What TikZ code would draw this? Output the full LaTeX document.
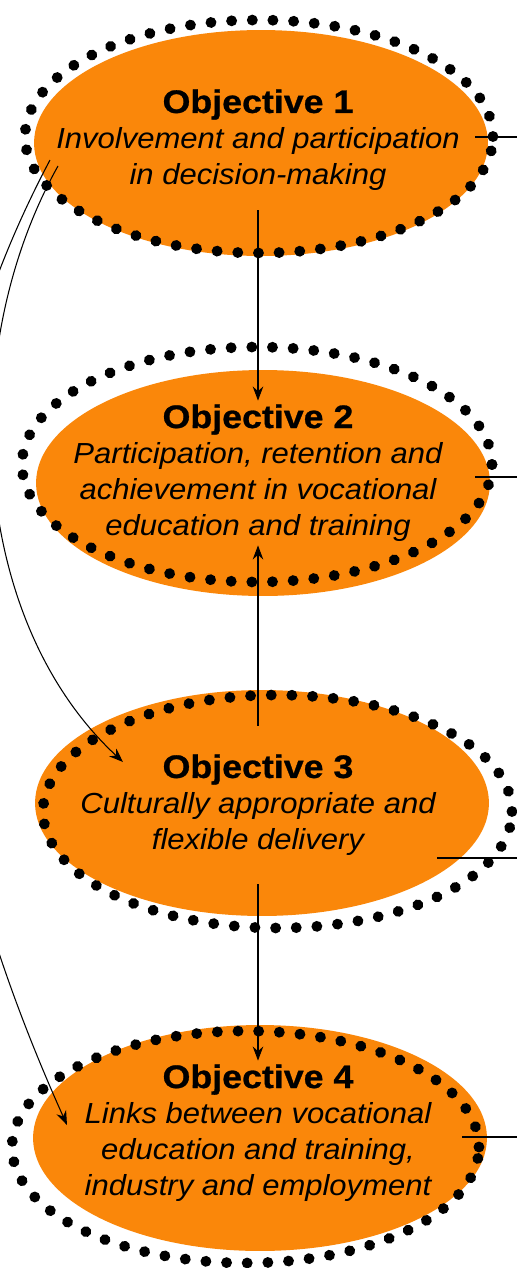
\documentclass[tikz,border=0pt]{standalone}
\usepackage{fontspec}
\setmainfont{Liberation Sans}[FakeStretch=1.07]
\newfontfamily\titlefont{Liberation Sans}[FakeStretch=1.1,BoldFeatures={FakeBold=0.8}]
\usetikzlibrary{arrows.meta,shapes.geometric,decorations.markings}

\definecolor{objorange}{RGB}{250,135,10}

\tikzset{
	objective/.style={ellipse,fill=objorange,inner sep=0pt,minimum width=9.08cm,minimum height=4.52cm},
	dotring/.style={decoration={markings,mark=between positions 0 and 1 step 0.414cm with {\fill (0,0) circle (3.1pt);}},decorate},
	objtext/.style={align=center,inner sep=2pt,font=\fontsize{16.5}{20.4}\selectfont\itshape},
	link/.style={line width=0.6pt,-{Stealth[length=8pt,width=6pt]}},
	side/.style={line width=0.6pt}
}
\newcommand{\objtitle}[1]{{\titlefont\upshape\bfseries\fontsize{18.5}{20.4}\selectfont #1}}

\begin{document}
\begin{tikzpicture}[x=0.02cm,y=-0.02cm]
	\useasboundingbox (0,0) rectangle (517,1268);
	\clip (0,0) rectangle (517,1268);

	\node[objective] (e1) at (261,143) {};
	\node[objective] (e2) at (263,483) {};
	\node[objective] (e3) at (262,803) {};
	\node[objective] (e4) at (260,1138) {};

	\path[dotring] (259,136.5) ellipse [x radius=4.68cm,y radius=2.33cm];
	\path[dotring] (257,464.5) ellipse [x radius=4.70cm,y radius=2.35cm];
	\path[dotring] (277.5,811.5) ellipse [x radius=4.69cm,y radius=2.33cm];
	\path[dotring] (245.5,1147) ellipse [x radius=4.67cm,y radius=2.32cm];

	\node[objtext] (t1) at (258,140) {\objtitle{Objective 1}\\
		Involvement and participation\\ in decision-making};
	\node[objtext] (t2) at (258,473) {\objtitle{Objective 2}\\
		Participation, retention and\\ achievement in vocational\\ education and training};
	\node[objtext] (t3) at (258,805) {\objtitle{Objective 3}\\
		Culturally appropriate and\\ flexible delivery};
	\node[objtext] (t4) at (258,1133) {\objtitle{Objective 4}\\
		Links between vocational\\ education and training,\\ industry and employment};

	\draw[link] ([yshift=-9pt]t1.south) -- (t2.north);
	\draw[link] ([yshift=14pt]t3.north) -- (t2.south);
	\draw[link] ([yshift=-14pt]t3.south) -- (t4.north);

	\coordinate (b1) at (58,166);
	\coordinate (b3) at (123,762);
	\coordinate (a1) at (50,160);
	\coordinate (a4) at (67,1125);
	\draw[link] (b1) .. controls (-45,350) and (-30,620) .. (b3);
	\draw[link] (a1) .. controls (-130,500) and (-70,820) .. (a4);

	\coordinate (r1) at (475,137);
	\coordinate (r2) at (475,477);
	\coordinate (r3) at (437,858);
	\coordinate (r4) at (462,1137);
	\draw[side] (r1) -- (517,137);
	\draw[side] (r2) -- (517,477);
	\draw[side] (r3) -- (517,858);
	\draw[side] (r4) -- (517,1137);
\end{tikzpicture}
\end{document}
